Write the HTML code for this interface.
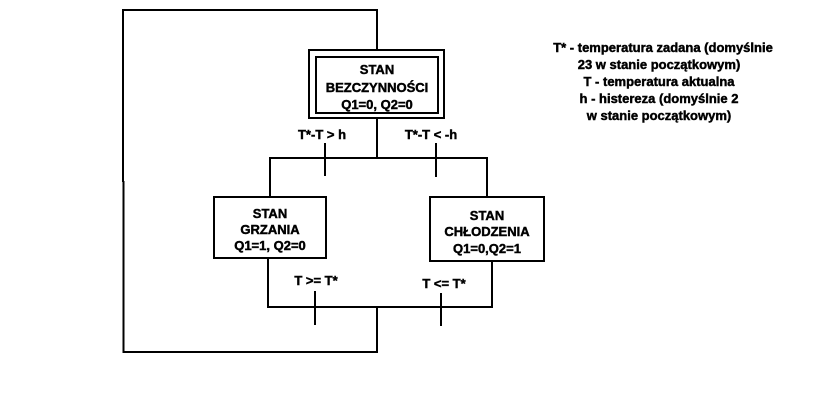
<!DOCTYPE html>
<html><head><meta charset="utf-8"><style>
html,body{margin:0;padding:0;background:#fff;}
svg{display:block;}
text{font-family:"Liberation Sans",Arial,sans-serif;font-weight:bold;font-size:13px;fill:#000;stroke:#000;stroke-width:0.45;text-anchor:middle;}
</style></head><body>
<svg width="813" height="411" viewBox="0 0 813 411" xmlns="http://www.w3.org/2000/svg">
<g stroke="#000" stroke-width="2" fill="none">
<polyline points="123,182 123,10 377,10 377,50"/>
<line x1="123.5" y1="181" x2="123.5" y2="353"/>
<polyline points="123,352 377,352 377,307"/>
<rect x="309" y="50" width="135" height="68"/>
<rect x="316" y="57" width="122" height="56"/>
<line x1="377" y1="118" x2="377" y2="158"/>
<polyline points="270,197 270,158 487,158 487,197"/>
<line x1="325" y1="143" x2="325" y2="176"/>
<line x1="436" y1="143" x2="436" y2="177"/>
<rect x="214" y="197" width="112" height="61"/>
<rect x="430" y="197" width="114" height="64"/>
<polyline points="268,258 268,307 492,307 492,261"/>
<line x1="315" y1="291" x2="315" y2="325"/>
<line x1="441" y1="293" x2="441" y2="326"/>
</g>
<text x="377" y="74">STAN</text>
<text x="377" y="92">BEZCZYNNOŚCI</text>
<text x="377" y="109">Q1=0, Q2=0</text>
<text x="322" y="139">T*-T &gt; h</text>
<text x="431" y="139">T*-T &lt; -h</text>
<text x="270" y="218">STAN</text>
<text x="270" y="234">GRZANIA</text>
<text x="270" y="250">Q1=1, Q2=0</text>
<text x="487" y="220">STAN</text>
<text x="487" y="236">CHŁODZENIA</text>
<text x="487" y="253">Q1=0,Q2=1</text>
<text x="316" y="285">T &gt;= T*</text>
<text x="444" y="288">T &lt;= T*</text>
<g style="font-size:12.6px">
<text x="663" y="52">T* - temperatura zadana (domyślnie</text>
<text x="659" y="69">23 w stanie początkowym)</text>
<text x="659" y="86">T - temperatura aktualna</text>
<text x="659" y="103">h - histereza (domyślnie 2</text>
<text x="659" y="120">w stanie początkowym)</text>
</g>
</svg>
</body></html>
